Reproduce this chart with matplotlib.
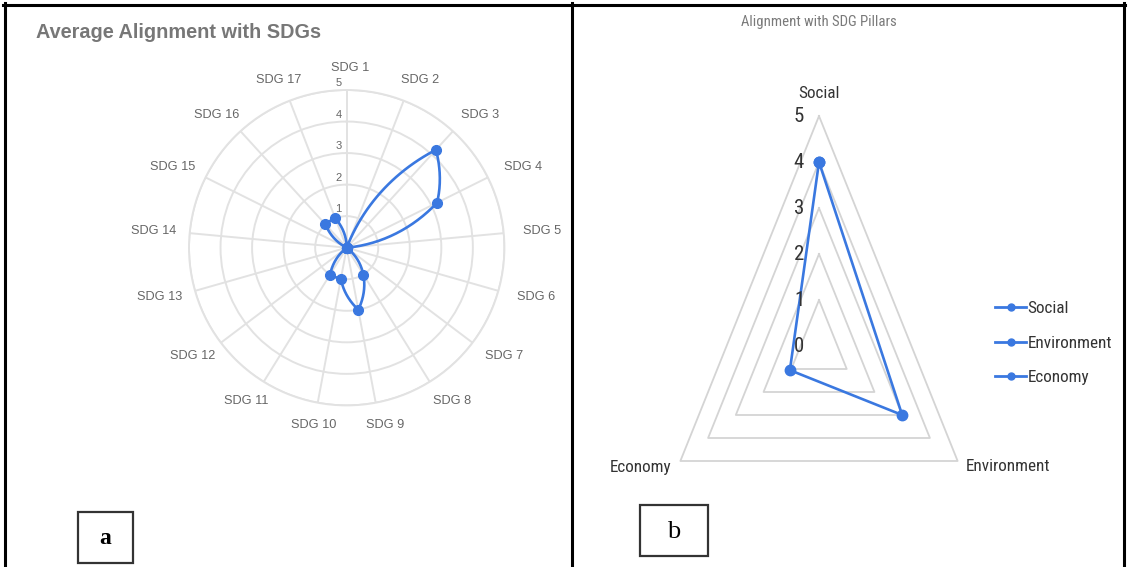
import numpy as np
import matplotlib
matplotlib.use('Agg')
import matplotlib.pyplot as plt
from matplotlib.lines import Line2D
from matplotlib.patches import Rectangle
from matplotlib import font_manager as fm

# ---------------- data ----------------
sdg_labels = ['SDG 1', 'SDG 2', 'SDG 3', 'SDG 4', 'SDG 5', 'SDG 6', 'SDG 7', 'SDG 8',
              'SDG 9', 'SDG 10', 'SDG 11', 'SDG 12', 'SDG 13', 'SDG 14', 'SDG 15',
              'SDG 16', 'SDG 17']
sdg_values = [0, 0, 4.2, 3.2, 0, 0, 0, 1, 2, 1, 1, 0, 0, 0, 0, 1, 1]
sdg_ticks = [1, 2, 3, 4, 5]
title_a = 'Average Alignment with SDGs'

pillar_labels = ['Social', 'Environment', 'Economy']
pillar_values = [4, 3, 1.05]
pillar_ticks = [0, 1, 2, 3, 4, 5]
title_b = 'Alignment with SDG Pillars'

BLUE = '#3a78e0'
GRID = '#e2e2e2'
W, H = 1128, 567

# pick a narrow font if one exists
names = {f.name for f in fm.fontManager.ttflist}
NARROW = 'Liberation Sans'
for cand in ['Liberation Sans Narrow', 'Arial Narrow', 'Roboto Condensed',
             'Open Sans Condensed', 'Noto Sans Condensed', 'DejaVu Sans Condensed']:
    if cand in names:
        NARROW = cand
        break

fig = plt.figure(figsize=(W / 100, H / 100), dpi=100)
fig.patch.set_facecolor('white')
renderer = fig.canvas.get_renderer()


def fx(px):
    return px / W


def fy(py):
    return 1 - py / H


def size_for_width(s, target, family, weight='normal'):
    t = fig.text(0, 0, s, fontsize=10, family=family, fontweight=weight)
    w = t.get_window_extent(renderer).width
    t.remove()
    return 10 * target / w


# ---------------- panel (a): 17-axis radar ----------------
cx, cy, R = 346.7, 247.7, 157.7
ax1 = fig.add_axes([fx(cx - R), fy(cy + R), 2 * R / W, 2 * R / H], projection='polar')
ax1.set_theta_zero_location('N')
ax1.set_theta_direction(-1)
n = len(sdg_labels)
theta = np.arange(n) * 2 * np.pi / n
ax1.set_ylim(0, 5)
ax1.set_xticks(theta)
ax1.set_xticklabels([])
ax1.set_yticks(sdg_ticks)
ax1.set_yticklabels([])
ax1.tick_params(length=0)
ax1.grid(True, color=GRID, lw=1.4)
ax1.spines['polar'].set_color(GRID)
ax1.spines['polar'].set_linewidth(1.4)
ax1.set_facecolor('none')

# segments interpolated linearly in (angle, value) space
vals = np.array(sdg_values, dtype=float)
th_closed = np.append(theta, 2 * np.pi)
v_closed = np.append(vals, vals[0])
s = np.linspace(0, 1, 50)
cth = np.concatenate([th_closed[i] + s * (th_closed[i + 1] - th_closed[i]) for i in range(n)])
cr = np.concatenate([v_closed[i] + s * (v_closed[i + 1] - v_closed[i]) for i in range(n)])
ax1.plot(cth, cr, color=BLUE, lw=1.9, solid_joinstyle='round', zorder=3)
ax1.plot(theta, vals, 'o', color=BLUE, ms=7, zorder=4)

# radial tick labels
for k in sdg_ticks:
    ax1.annotate(str(k), xy=(0, k), xytext=(-8, 7), textcoords='offset pixels',
                 ha='center', va='center', fontsize=8, color='#666666',
                 family='Liberation Sans', annotation_clip=False)

# category labels
rl = 5 * 174.6 / R
for lab, th in zip(sdg_labels, theta):
    ann = ax1.annotate(lab, xy=(th, rl), xytext=(3, np.cos(th) * 5.5),
                       textcoords='offset pixels', ha='center', va='center', fontsize=9.2,
                       color='#666666', family='Liberation Sans', annotation_clip=False)
    w = ann.get_window_extent(renderer).width
    ann.xyann = (3 + np.sin(th) * w / 2, np.cos(th) * 5.5)

fig.text(fx(36), fy(33), title_a, ha='left', va='center',
         fontsize=size_for_width(title_a, 286, 'Liberation Sans', 'bold'), fontweight='bold',
         color='#777777', family='Liberation Sans')

# ---------------- panel (b): triangle radar ----------------
ccx, ccy = 819.0, 346.0
uy = 46.0          # px per unit vertically
ux = uy * 0.696    # px per unit horizontally (squeezed image)
xl, xr, yb, yt = -5.5, 5.5, -3.0, 5.3
ax2 = fig.add_axes([fx(ccx + xl * ux), fy(ccy - yb * uy), (xr - xl) * ux / W, (yt - yb) * uy / H])
ax2.set_xlim(xl, xr)
ax2.set_ylim(yb, yt)
ax2.axis('off')
m = len(pillar_labels)
ang = np.arange(m) * 2 * np.pi / m
for k in pillar_ticks[1:]:
    xs = np.append(k * np.sin(ang), k * np.sin(ang[0]))
    ys = np.append(k * np.cos(ang), k * np.cos(ang[0]))
    ax2.plot(xs, ys, color='#d4d4d4', lw=1.3, zorder=1)
pv = np.array(pillar_values, dtype=float)
xs = np.append(pv * np.sin(ang), pv[0] * np.sin(ang[0]))
ys = np.append(pv * np.cos(ang), pv[0] * np.cos(ang[0]))
ax2.plot(xs, ys, color=BLUE, lw=1.9, marker='o', ms=7.5, zorder=3)

TXT2 = '#333333'
lab_size = size_for_width('Environment', 84, NARROW)
for k in pillar_ticks:
    ax2.annotate(str(k), xy=(0, k), xytext=(-20, 0), textcoords='offset pixels',
                 ha='center', va='center', fontsize=lab_size * 1.22, color=TXT2,
                 family=NARROW, annotation_clip=False)
offs = {'Social': ((0, 23), 'center'), 'Environment': ((8, -6), 'left'),
        'Economy': ((-9, -6), 'right')}
for lab, a in zip(pillar_labels, ang):
    o, ha = offs[lab]
    ax2.annotate(lab, xy=(5 * np.sin(a), 5 * np.cos(a)), xytext=o, textcoords='offset pixels',
                 ha=ha, va='center', fontsize=lab_size, color=TXT2, family=NARROW,
                 annotation_clip=False)

lab_px = lab_size * 100 / 72
handles = [Line2D([], [], color=BLUE, lw=2, marker='o', ms=5) for _ in pillar_labels]
leg = fig.legend(handles, pillar_labels, loc='center left', bbox_to_anchor=(fx(995), fy(343)),
                 frameon=False, borderpad=0, borderaxespad=0, handlelength=31 / lab_px,
                 handletextpad=1.5 / lab_px, labelspacing=(40 - 1.2 * lab_px) / lab_px,
                 prop={'family': NARROW, 'size': lab_size})
for tx in leg.get_texts():
    tx.set_color(TXT2)

fig.text(fx(818.5), fy(22), title_b, ha='center', va='center',
         fontsize=size_for_width(title_b, 155, NARROW), color='#7a7a7a', family=NARROW)

# ---------------- frames & panel letters ----------------
lw_frame = 2.2
for (x0, y0, x1, y1) in [(3, 4.5, 1125, 4.5), (4.5, 3, 4.5, 567), (571.5, 3, 571.5, 567),
                         (1124, 3, 1124, 567)]:
    fig.add_artist(Line2D([fx(x0), fx(x1)], [fy(y0), fy(y1)], color='black', lw=lw_frame))

for (x0, y0, x1, y1, letter, wt, fs) in [(78, 512, 133, 563, 'a', 'bold', 17),
                                        (640, 505, 708, 556, 'b', 'normal', 19)]:
    fig.add_artist(Rectangle((fx(x0), fy(y1)), fx(x1) - fx(x0), fy(y0) - fy(y1),
                             transform=fig.transFigure, fill=False, ec='#333333', lw=1.6))
    fig.text(fx((x0 + x1) / 2), fy((y0 + y1) / 2 + 1), letter, ha='center', va='center',
             fontsize=fs, fontweight=wt, family='Liberation Serif', color='black')

fig.savefig('out.png', dpi=100)
